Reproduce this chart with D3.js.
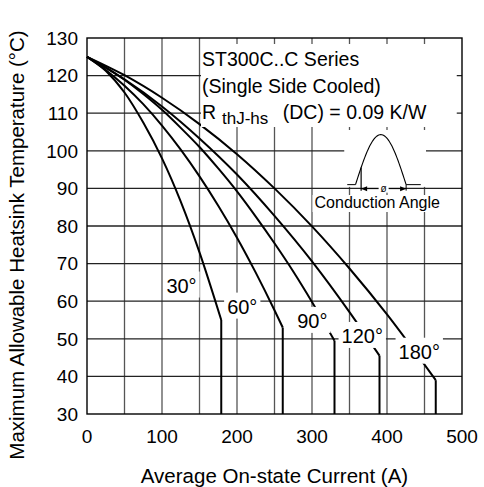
<!DOCTYPE html>
<html>
<head>
<meta charset="utf-8">
<script src="https://cdn.jsdelivr.net/npm/d3@7"></script>
<style>
  body { margin: 0; background: #fff; }
  text { font-family: "Liberation Sans", Arial, sans-serif; fill: #000; }
</style>
</head>
<body>
<div id="chart"></div>
<script>
// conduction angles and the curves
const angles = ["30°", "60°", "90°", "120°", "180°"];

// [average current (A), max heatsink temperature (°C)]
const curve30 = [[0,125],[25,121.3],[50,115.5],[75,107.5],[100,98],[125,86.5],[150,73],[179,55]];
const curve60 = [[0,125],[25,121.5],[50,117.3],[75,112.4],[100,106.7],[125,100.3],[150,93.2],[175,85.4],[200,76.9],[225,67.6],[250,57.6],[261,53]];
const curve90 = [[0,125],[25,122.2],[50,118.9],[75,115.1],[100,110.9],[125,106.1],[150,101],[175,95.3],[200,89.2],[225,82.5],[250,75.4],[275,67.9],[300,59.8],[330,49.5]];
const curve120 = [[0,125],[50,119],[100,111.8],[150,103.3],[200,93.7],[250,82.7],[300,70.6],[350,57.1],[390,45.5]];
const curve180 = [[0,125],[50,120.1],[100,114.1],[150,107.1],[200,99.1],[250,90],[300,79.9],[350,68.7],[400,56.5],[465,39]];
const curves = [curve30, curve60, curve90, curve120, curve180];

// where each angle label sits (current, temperature of text baseline)
const labelCurrent = [126, 207, 300.5, 367, 443];
const labelTemp = [62.3, 56.7, 52.9, 48.9, 44.7];

const xTicks = [0, 100, 200, 300, 400, 500];
const yTicks = [30, 40, 50, 60, 70, 80, 90, 100, 110, 120, 130];
const xGrid = d3.range(50, 500, 50);

const margin = {top: 38, right: 22, bottom: 73, left: 87};
const W = 484, H = 487;
const width = W - margin.left - margin.right;
const height = H - margin.top - margin.bottom;

const svg = d3.select("#chart").append("svg")
    .attr("width", W)
    .attr("height", H);

const g = svg.append("g")
    .attr("transform", "translate(" + margin.left + "," + margin.top + ")");

const x = d3.scaleLinear().domain([0, 500]).range([0, width]);
const y = d3.scaleLinear().domain([30, 130]).range([height, 0]);

// grid
g.selectAll(".vgrid").data(xGrid).enter().append("line")
    .attr("x1", d => x(d)).attr("x2", d => x(d))
    .attr("y1", 0).attr("y2", height)
    .attr("stroke", "#555").attr("stroke-width", 1.3);

g.selectAll(".hgrid").data(yTicks.slice(1, -1)).enter().append("line")
    .attr("x1", 0).attr("x2", width)
    .attr("y1", d => y(d)).attr("y2", d => y(d))
    .attr("stroke", "#222").attr("stroke-width", 1.3);

// tick labels
g.selectAll(".xlab").data(xTicks).enter().append("text")
    .attr("x", d => x(d))
    .attr("y", height + 29)
    .attr("text-anchor", "middle")
    .style("font-size", "19px")
    .text(d => d);

g.selectAll(".ylab").data(yTicks).enter().append("text")
    .attr("x", -9)
    .attr("y", d => y(d))
    .attr("dy", "0.36em")
    .attr("text-anchor", "end")
    .style("font-size", "19px")
    .text(d => d);

// curves
const line = d3.line()
    .x(d => x(d[0]))
    .y(d => y(d[1]))
    .curve(d3.curveMonotoneX);

curves.forEach(c => {
  g.append("path")
      .attr("d", line(c))
      .attr("fill", "none")
      .attr("stroke", "#000")
      .attr("stroke-width", 2);
  // drop to the bottom at the last current value
  const last = c[c.length - 1];
  g.append("line")
      .attr("x1", x(last[0])).attr("x2", x(last[0]))
      .attr("y1", y(last[1])).attr("y2", y(30))
      .attr("stroke", "#000")
      .attr("stroke-width", 2);
});

// angle labels with white backing
angles.forEach((a, i) => {
  const t = g.append("text")
      .attr("x", x(labelCurrent[i]))
      .attr("y", y(labelTemp[i]))
      .attr("text-anchor", "middle")
      .style("font-size", "20px")
      .text(a);
  const b = t.node().getBBox();
  g.insert("rect", function() { return t.node(); })
      .attr("x", b.x - 3).attr("y", b.y - 3)
      .attr("width", b.width + 6).attr("height", b.height + 4)
      .attr("fill", "#fff");
});

// info box
g.append("rect")
    .attr("x", x(152)).attr("y", 6)
    .attr("width", x(493) - x(152)).attr("height", 83)
    .attr("fill", "#fff");

g.append("text").attr("x", x(152) + 1).attr("y", 28)
    .style("font-size", "19.5px").text("ST300C..C Series");
g.append("text").attr("x", x(152) + 1).attr("y", 55)
    .style("font-size", "19.5px").text("(Single Side Cooled)");
g.append("text").attr("x", x(152) + 1).attr("y", 81)
    .style("font-size", "19.5px").text("R");
g.append("text").attr("x", x(180)).attr("y", 86)
    .style("font-size", "17px").text("thJ-hs");
g.append("text").attr("x", x(261)).attr("y", 81)
    .style("font-size", "19.5px").text("(DC) = 0.09 K/W");

// conduction angle inset
g.append("rect")
    .attr("x", x(343)).attr("y", 92)
    .attr("width", x(452) - x(343)).attr("height", y(90.4) - 92)
    .attr("fill", "#fff");

const base = y(91), peak = y(104.3);
const foot0 = x(358), foot1 = x(425.5);
const arch = d3.range(0, 1.0001, 0.02).map(f => [foot0 + f * (foot1 - foot0), base - Math.sin(Math.PI * f) * (base - peak)]);
g.append("path")
    .attr("d", d3.line()(arch))
    .attr("fill", "none").attr("stroke", "#000").attr("stroke-width", 1.1);
g.append("line").attr("x1", x(347)).attr("x2", foot0).attr("y1", base).attr("y2", base)
    .attr("stroke", "#000").attr("stroke-width", 1);
g.append("line").attr("x1", foot1).attr("x2", x(445)).attr("y1", base).attr("y2", base)
    .attr("stroke", "#000").attr("stroke-width", 1);

// "Conduction Angle" caption, backing only the glyph band so the arrow above stays visible
const ca = g.append("text").attr("x", x(387)).attr("y", 170)
    .attr("text-anchor", "middle").style("font-size", "16px").text("Conduction Angle");
const cb = ca.node().getBBox();
g.insert("rect", function() { return ca.node(); })
    .attr("x", cb.x - 2).attr("y", 170 - 13).attr("width", cb.width + 4).attr("height", 17)
    .attr("fill", "#fff");

const fire = x(365.5);
const fireF = (fire - foot0) / (foot1 - foot0);
const arrowY = base + 4;
g.append("line").attr("x1", fire).attr("x2", fire)
    .attr("y1", base - Math.sin(Math.PI * fireF) * (base - peak)).attr("y2", arrowY + 2)
    .attr("stroke", "#000").attr("stroke-width", 1.2);
g.append("line").attr("x1", foot1).attr("x2", foot1)
    .attr("y1", base).attr("y2", arrowY + 2)
    .attr("stroke", "#000").attr("stroke-width", 1);
g.append("line").attr("x1", fire).attr("x2", foot1)
    .attr("y1", arrowY).attr("y2", arrowY)
    .attr("stroke", "#000").attr("stroke-width", 0.9);
g.append("path")
    .attr("d", `M${fire},${arrowY}l6,-2.5v5z M${foot1},${arrowY}l-6,-2.5v5z`)
    .attr("fill", "#000");
const mid = (fire + foot1) / 2;
g.append("rect").attr("x", mid - 5).attr("y", arrowY - 5).attr("width", 10).attr("height", 9).attr("fill", "#fff");
g.append("text").attr("x", mid).attr("y", arrowY + 3)
    .attr("text-anchor", "middle").style("font-size", "10px").text("ø");

// frame
g.append("rect")
    .attr("width", width).attr("height", height)
    .attr("fill", "none").attr("stroke", "#000").attr("stroke-width", 1.4);

// axis titles
svg.append("text")
    .attr("x", margin.left + width / 2)
    .attr("y", 483)
    .attr("text-anchor", "middle")
    .style("font-size", "20.5px")
    .text("Average On-state Current (A)");

svg.append("text")
    .attr("transform", "translate(24,245) rotate(-90)")
    .attr("text-anchor", "middle")
    .style("font-size", "20.5px")
    .text("Maximum Allowable Heatsink Temperature (°C)");
</script>
</body>
</html>
